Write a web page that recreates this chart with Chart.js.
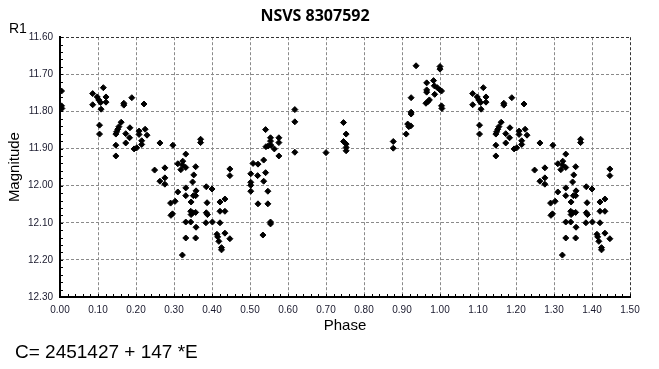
<!DOCTYPE html>
<html>
<head>
<meta charset="utf-8">
<title>NSVS 8307592</title>
<script src="https://cdn.jsdelivr.net/npm/chart.js@4"></script>
<style>
  html, body { margin: 0; padding: 0; background: #fff; }
  #wrap { position: relative; width: 659px; height: 369px; }
  #chart { position: absolute; left: 0; top: 0; }
  .note { position: absolute; font-family: 'Liberation Sans', Arial, sans-serif; color: #000; white-space: nowrap; line-height: 1; }
  #r1 { left: 9px; top: 21px; font-size: 14px; }
  #eq { left: 15px; top: 342px; font-size: 19px; }
</style>
</head>
<body>
<div id="wrap">
  <canvas id="chart" width="659" height="369"></canvas>
  <div class="note" id="r1">R1</div>
  <div class="note" id="eq">C= 2451427 + 147 *E</div>
</div>
<script>
// phase (0..1) and R1 magnitude
const phase = [
  0.004, 0.004, 0.005, 0.086, 0.086, 0.098, 0.102, 0.107, 0.114, 0.121,
  0.121, 0.108, 0.104, 0.104, 0.168, 0.168, 0.189, 0.221, 0.161, 0.155,
  0.152, 0.149, 0.147, 0.147, 0.147, 0.173, 0.184, 0.183, 0.173, 0.195,
  0.202, 0.208, 0.208, 0.224, 0.229, 0.215, 0.215, 0.263, 0.297, 0.249,
  0.276, 0.263, 0.276, 0.276, 0.310, 0.318, 0.310, 0.291, 0.303, 0.292,
  0.296, 0.322,
  0.323, 0.323, 0.331, 0.331, 0.357, 0.352, 0.349, 0.370, 0.370, 0.331,
  0.358, 0.351, 0.357, 0.331, 0.345, 0.344, 0.349, 0.357, 0.345, 0.331,
  0.344, 0.358, 0.331, 0.357, 0.385, 0.400, 0.387, 0.385, 0.388, 0.384,
  0.401, 0.421, 0.434, 0.421, 0.434, 0.421, 0.413, 0.415, 0.418, 0.425,
  0.425, 0.434, 0.447, 0.447, 0.447,
  0.502, 0.508, 0.521, 0.536, 0.520, 0.541, 0.536, 0.502, 0.502, 0.502,
  0.547, 0.521, 0.547, 0.554, 0.554, 0.534, 0.541, 0.554, 0.554, 0.542,
  0.548, 0.555, 0.564, 0.576, 0.576, 0.576, 0.618, 0.618, 0.618,
  0.700, 0.746, 0.753, 0.746, 0.753, 0.753, 0.753, 0.877, 0.877, 0.911,
  0.915, 0.918, 0.923, 0.924, 0.924, 0.924, 0.937, 0.965, 0.965, 0.965,
  0.963, 0.968, 0.972, 0.983, 0.985, 0.986, 0.993, 1.000, 1.000, 1.000
];
const magnitude = [
  11.745, 11.785, 11.792, 11.752, 11.782, 11.761, 11.769, 11.776, 11.736, 11.761,
  11.775, 11.794, 11.837, 11.861, 11.778, 11.783, 11.763, 11.780, 11.829, 11.841,
  11.848, 11.855, 11.861, 11.891, 11.920, 11.860, 11.844, 11.871, 11.885, 11.901,
  11.898, 11.853, 11.862, 11.848, 11.864, 11.879, 11.889, 11.885, 11.891, 11.958,
  11.952, 11.988, 11.979, 11.996, 11.941, 11.957, 12.017, 12.047, 12.042, 12.080,
  12.076, 12.187,
  11.934, 11.945, 11.951, 11.915, 11.949, 11.971, 11.990, 11.875, 11.884, 12.006,
  12.014, 12.027, 12.027, 12.027, 12.044, 12.069, 12.073, 12.072, 12.078, 12.098,
  12.098, 12.112, 12.141, 12.141, 12.003, 12.009, 12.046, 12.073, 12.078, 12.100,
  12.098, 12.044, 12.036, 12.069, 12.069, 12.100, 12.131, 12.138, 12.150, 12.167,
  12.173, 12.128, 12.143, 11.955, 11.973,
  11.968, 11.940, 11.942, 11.931, 11.973, 11.965, 11.988, 11.991, 11.999, 12.015,
  12.015, 12.049, 12.049, 12.098, 12.103, 12.133, 11.849, 11.871, 11.880, 11.895,
  11.893, 11.891, 11.901, 11.871, 11.884, 11.920, 11.795, 11.828, 11.910,
  11.911, 11.830, 11.861, 11.881, 11.888, 11.897, 11.906, 11.881, 11.899, 11.861,
  11.834, 11.841, 11.839, 11.802, 11.807, 11.763, 11.677, 11.723, 11.742, 11.748,
  11.778, 11.774, 11.769, 11.717, 11.731, 11.754, 11.736, 11.742, 11.679, 11.686
];
const xTicks = { min: 0, max: 1.5, step: 0.1 };
const yTicks = { min: 11.6, max: 12.3, step: 0.1 };

// the plot shows the phase range 0..1.5, so the first half cycle is repeated after 1.0
const points = [];
phase.forEach((p, i) => {
  points.push({ x: p, y: magnitude[i] });
  if (p < 0.5) points.push({ x: p + 1, y: magnitude[i] });
});

const tickFont = { family: 'Liberation Sans', size: 10 };
const titleFont = { family: 'Liberation Sans', size: 15 };

// small inward ticks every 0.02 along the bottom and left axes
const minorTicks = {
  id: 'minorTicks',
  afterDraw(chart) {
    const { ctx, chartArea, scales } = chart;
    ctx.save();
    ctx.strokeStyle = '#000';
    ctx.lineWidth = 1;
    ctx.beginPath();
    for (let i = 0; i <= 75; i++) {
      const px = Math.round(scales.x.getPixelForValue(i * 0.02)) + 0.5;
      ctx.moveTo(px, chartArea.bottom);
      ctx.lineTo(px, chartArea.bottom - 3);
    }
    for (let i = 0; i <= 35; i++) {
      const py = Math.round(scales.y.getPixelForValue(11.6 + i * 0.02)) + 0.5;
      ctx.moveTo(chartArea.left, py);
      ctx.lineTo(chartArea.left + 3, py);
    }
    ctx.stroke();
    ctx.restore();
  }
};

new Chart(document.getElementById('chart'), {
  type: 'scatter',
  data: {
    datasets: [{
      data: points,
      pointStyle: 'rectRot',
      pointRadius: 3,
      pointHoverRadius: 3,
      borderWidth: 1,
      backgroundColor: '#000',
      borderColor: '#000'
    }]
  },
  options: {
    responsive: false,
    devicePixelRatio: 1,
    animation: false,
    events: [],
    layout: { padding: { left: 0, right: 29, top: 0, bottom: 34 } },
    plugins: {
      legend: { display: false },
      tooltip: { enabled: false },
      title: {
        display: true,
        text: 'NSVS 8307592',
        color: '#000',
        font: { family: 'Open Sans', weight: 'bold', size: 16 },
        padding: { top: 7, bottom: 11 }
      }
    },
    scales: {
      x: {
        type: 'linear',
        min: xTicks.min,
        max: xTicks.max,
        afterFit(scale) { scale.height = 38; },
        title: { display: true, text: 'Phase', color: '#000', font: titleFont, padding: 0 },
        ticks: {
          stepSize: xTicks.step,
          autoSkip: false,
          maxRotation: 0,
          padding: 7,
          color: '#1a1a2e',
          font: tickFont,
          callback: v => v.toFixed(2)
        },
        grid: {
          drawTicks: false,
          color: c => (c.tick && Math.abs(c.tick.value - xTicks.max) < 1e-6) ? '#333' : '#8a8a8a'
        },
        border: { display: true, color: '#000', width: 2, dash: [3, 2] }
      },
      y: {
        type: 'linear',
        reverse: true,
        min: yTicks.min,
        max: yTicks.max,
        afterFit(scale) { scale.width = 60; },
        title: { display: true, text: 'Magnitude', color: '#000', font: titleFont, padding: { top: 6, bottom: 0 } },
        ticks: {
          stepSize: yTicks.step,
          padding: 7,
          color: '#1a1a2e',
          font: tickFont,
          callback: v => v.toFixed(2)
        },
        grid: {
          drawTicks: false,
          color: c => (c.tick && Math.abs(c.tick.value - yTicks.min) < 1e-6) ? '#333' : '#8a8a8a'
        },
        border: { display: true, color: '#000', width: 2, dash: [3, 2] }
      }
    }
  },
  plugins: [minorTicks]
});
</script>
</body>
</html>
